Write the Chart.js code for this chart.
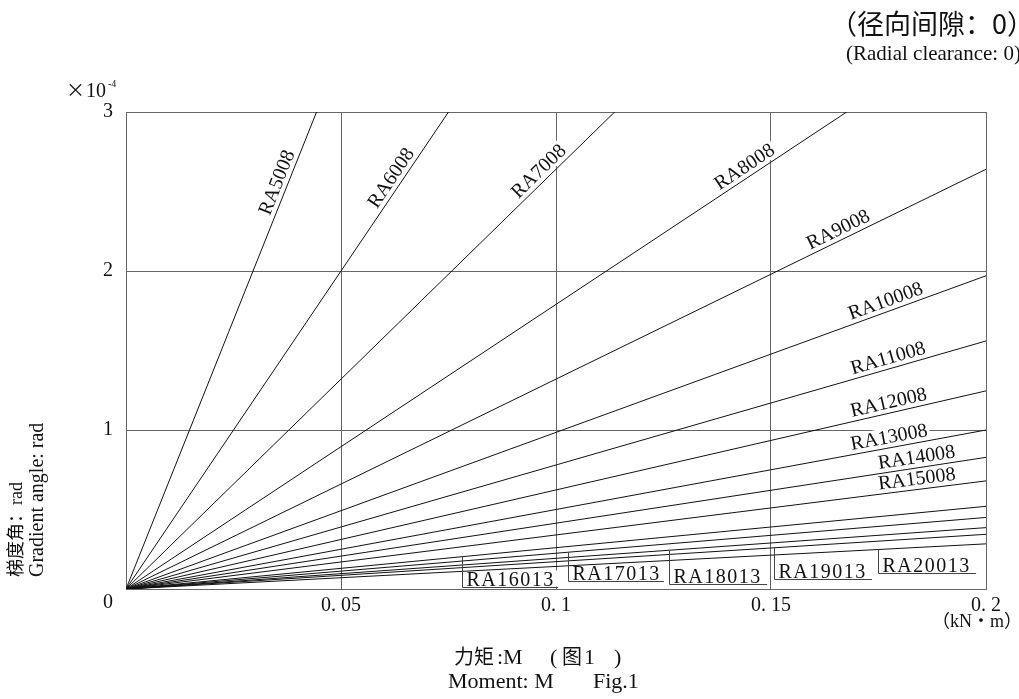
<!DOCTYPE html>
<html>
<head>
<meta charset="utf-8">
<script src="https://cdn.jsdelivr.net/npm/chart.js@4.4.1/dist/chart.umd.min.js"></script>
<style>
  body { margin: 0; background: #fff; }
  #wrap { position: relative; width: 1019px; height: 699px; }
</style>
</head>
<body>
<div id="wrap"><canvas id="myChart"></canvas></div>
<script>
// bearing types, one straight line each
let types = ["RA5008", "RA6008", "RA7008", "RA8008", "RA9008", "RA10008", "RA11008",
  "RA12008", "RA13008", "RA14008", "RA15008", "RA16013", "RA17013", "RA18013",
  "RA19013", "RA20013"];
// gradient angle per moment (x10^-4 rad per kN·m)
let slopes = [67.7, 40.0, 26.4, 17.9, 13.2, 9.85, 7.8, 6.23, 5.0, 4.14, 3.4,
  2.6, 2.25, 1.93, 1.72, 1.42];
let maxMoment = 0.2;
let maxAngle = 3;

let xTicks = [0.05, 0.1, 0.15, 0.2];
let xTickLabels = ["0. 05", "0. 1", "0. 15", "0. 2"];
let yTicks = [1, 2, 3];
let yTickLabels = ["1", "2", "3"];

// where the rotated names sit along their line (kN·m), first 11 types
let labelAt = [0.0374, 0.0637, 0.0977, 0.1452, 0.1667, 0.1775, 0.1779, 0.1779,
  0.1779, 0.1842, 0.1842];
// boxed names of the small types: leader start, underline end (kN·m), underline level
let boxFrom = [0.0781, 0.1028, 0.1263, 0.1507, 0.1749];
let boxTo = [0.1005, 0.1251, 0.1491, 0.1735, 0.1977];
let boxBase = [0.013, 0.05, 0.034, 0.063, 0.1];

const ink = "#111";
const gridColor = "#666";
const serif = '"Liberation Serif", "Noto Sans CJK SC"';

let datasets = types.map((t, i) => ({
  label: t,
  data: [{ x: 0, y: 0 }, { x: maxMoment, y: slopes[i] * maxMoment }],
  showLine: true,
  borderColor: ink,
  borderWidth: 1,
  pointRadius: 0,
  clip: 0,
}));

function drawLabels(chart, bg) {
  let ctx = chart.ctx;
  let xs = chart.scales.x;
  let ys = chart.scales.y;
  ctx.save();
  ctx.font = "20px " + serif;
  ctx.fillStyle = bg ? "#fff" : ink;
  let x0 = xs.getPixelForValue(0);
  let y0 = ys.getPixelForValue(0);
  labelAt.forEach((m, i) => {
    let px = xs.getPixelForValue(m);
    let py = ys.getPixelForValue(slopes[i] * m);
    let a = Math.atan2(py - y0, px - x0);
    let cx = px + 11 * Math.sin(a);
    let cy = py - 11 * Math.cos(a);
    let w = ctx.measureText(types[i]).width;
    ctx.save();
    ctx.translate(cx, cy);
    ctx.rotate(a);
    if (bg) {
      ctx.fillRect(-w / 2 - 2, -9, w + 4, 18);
    } else {
      ctx.textAlign = "center";
      ctx.textBaseline = "middle";
      ctx.fillText(types[i], 0, 1);
    }
    ctx.restore();
  });

  // boxed labels near the bottom
  ctx.letterSpacing = "1.5px";
  boxFrom.forEach((m, j) => {
    let i = 11 + j;
    let bx = Math.round(xs.getPixelForValue(m)) + 0.5;
    let ex = xs.getPixelForValue(boxTo[j]);
    let top = ys.getPixelForValue(slopes[i] * m);
    let base = Math.round(ys.getPixelForValue(boxBase[j])) + 0.5;
    if (bg) {
      ctx.fillRect(bx + 1, base - 17, ex - bx - 1, 16);
    } else {
      ctx.strokeStyle = "#444";
      ctx.lineWidth = 1;
      ctx.beginPath();
      ctx.moveTo(bx, top);
      ctx.lineTo(bx, base);
      ctx.lineTo(ex, base);
      ctx.stroke();
      ctx.textAlign = "left";
      ctx.textBaseline = "alphabetic";
      ctx.fillText(types[i], bx + 4, base - 2);
    }
  });
  ctx.restore();
}

function drawText(chart) {
  let ctx = chart.ctx;
  let xs = chart.scales.x;
  let ys = chart.scales.y;
  ctx.save();
  ctx.fillStyle = ink;

  // tick labels
  ctx.font = "20px " + serif;
  ctx.textAlign = "center";
  ctx.textBaseline = "middle";
  xTicks.forEach((v, i) => {
    ctx.fillText(xTickLabels[i], xs.getPixelForValue(v), 606);
  });
  ctx.textAlign = "right";
  yTicks.forEach((v, i) => {
    ctx.fillText(yTickLabels[i], 113, ys.getPixelForValue(v));
  });
  ctx.fillText("0", 113, 603);

  // x10^-4
  ctx.textAlign = "left";
  ctx.textBaseline = "alphabetic";
  ctx.font = '19px "Noto Sans CJK SC"';
  ctx.fillText("×", 66, 97);
  ctx.font = "20px " + serif;
  ctx.fillText("10", 86, 97);
  ctx.font = "10px " + serif;
  ctx.fillText("-4", 108, 87);

  // unit
  ctx.font = "18px " + serif;
  ctx.textAlign = "right";
  ctx.textBaseline = "middle";
  ctx.fillText("（kN・m）", 1022, 622);

  // bottom titles
  ctx.textAlign = "left";
  ctx.textBaseline = "alphabetic";
  ctx.font = '20px "Noto Sans CJK SC"';
  ctx.fillText("力矩", 454, 664);
  ctx.fillText("图", 562, 664);
  ctx.font = "22px " + serif;
  ctx.fillText(":M", 497, 664);
  ctx.fillText("(", 550, 664);
  ctx.fillText("1", 584, 664);
  ctx.fillText(")", 614, 664);
  ctx.fillText("Moment: M", 448, 688);
  ctx.fillText("Fig.1", 593, 688);

  // y title, rotated
  ctx.save();
  ctx.translate(17, 577);
  ctx.rotate(-Math.PI / 2);
  ctx.textBaseline = "middle";
  ctx.font = "18px " + serif;
  ctx.fillText("梯度角：rad", 0, 0);
  ctx.restore();
  ctx.save();
  ctx.translate(38, 577);
  ctx.rotate(-Math.PI / 2);
  ctx.textBaseline = "middle";
  ctx.font = "20px " + serif;
  ctx.fillText("Gradient angle: rad", 0, 0);
  ctx.restore();

  // top right note
  ctx.textBaseline = "middle";
  ctx.font = '27px "Noto Sans CJK SC"';
  ctx.fillText("（径向间隙：0）", 830, 24);
  ctx.font = "21px " + serif;
  ctx.fillText("(Radial clearance: 0)", 846, 54);
  ctx.restore();
}

const labelPlugin = {
  id: "lineLabels",
  beforeDatasetsDraw(chart) { drawLabels(chart, true); },
  afterDatasetsDraw(chart) { drawLabels(chart, false); },
  afterDraw(chart) { drawText(chart); },
};

let ctx = document.getElementById("myChart").getContext("2d");
let myChart = new Chart(ctx, {
  type: "scatter",
  data: { datasets: datasets },
  options: {
    responsive: true,
    maintainAspectRatio: false,
    animation: false,
    layout: { padding: { left: 126, right: 33, top: 112, bottom: 110 } },
    plugins: { legend: { display: false }, tooltip: { enabled: false } },
    scales: {
      x: {
        type: "linear",
        min: 0,
        max: maxMoment,
        ticks: { display: false, stepSize: 0.05 },
        grid: { color: gridColor, drawTicks: false, lineWidth: 1 },
        border: { color: gridColor },
      },
      y: {
        min: 0,
        max: maxAngle,
        ticks: { display: false, stepSize: 1 },
        grid: { color: gridColor, drawTicks: false, lineWidth: 1 },
        border: { color: gridColor },
      },
    },
  },
  plugins: [labelPlugin],
});
</script>
</body>
</html>
